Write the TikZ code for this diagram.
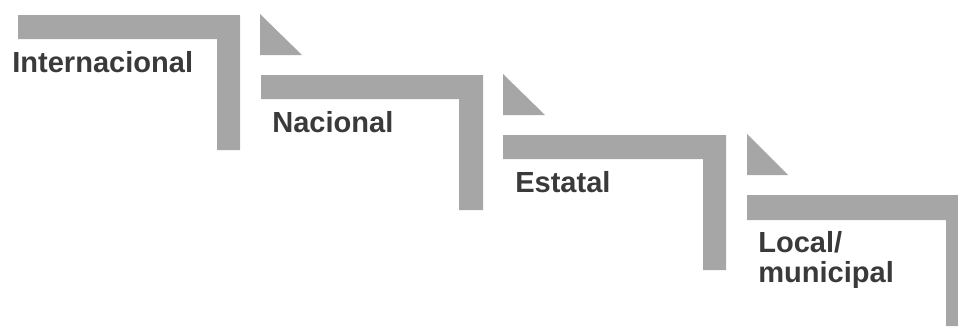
\documentclass[tikz,border=0pt]{standalone}
\usepackage{fontspec}
\setmainfont{Liberation Sans}

\definecolor{stepgray}{HTML}{A6A6A6}
\definecolor{labelgray}{HTML}{3A3A3A}

\begin{document}
\begin{tikzpicture}[
  x=0.75pt,y=-0.75pt,
  bar/.style={fill=stepgray,draw=none},
  wedge/.style={fill=stepgray,draw=none},
  level/.style={anchor=base west,inner sep=0pt,text=labelgray,align=left,
    font=\bfseries\fontsize{21.8}{22.5}\selectfont}
]
  \useasboundingbox (0,0) rectangle (958,326);

  % stair bars
  \fill[bar] (18,15) -- (240,15) -- (240,150) -- (217,150) -- (217,39) -- (18,39) -- cycle;
  \fill[bar] (261,75) -- (483,75) -- (483,210) -- (459,210) -- (459,99) -- (261,99) -- cycle;
  \fill[bar] (503,135) -- (726,135) -- (726,270) -- (703,270) -- (703,159) -- (503,159) -- cycle;
  \fill[bar] (747,195) -- (958,195) -- (958,326) -- (946,326) -- (946,220) -- (747,220) -- cycle;

  % small wedges between the steps
  \fill[wedge] (260,14) -- (302,55) -- (260,55) -- cycle;
  \fill[wedge] (503,74) -- (545,115) -- (503,115) -- cycle;
  \fill[wedge] (747,134) -- (788,175) -- (747,175) -- cycle;

  \node[level] (intl) at (12,72) {Internacional};
  \node[level] (nac) at (272,132) {Nacional};
  \node[level] (est) at (515,192) {Estatal};
  \node[level] (loc) at (758,282) {Local/\\municipal};
\end{tikzpicture}
\end{document}
